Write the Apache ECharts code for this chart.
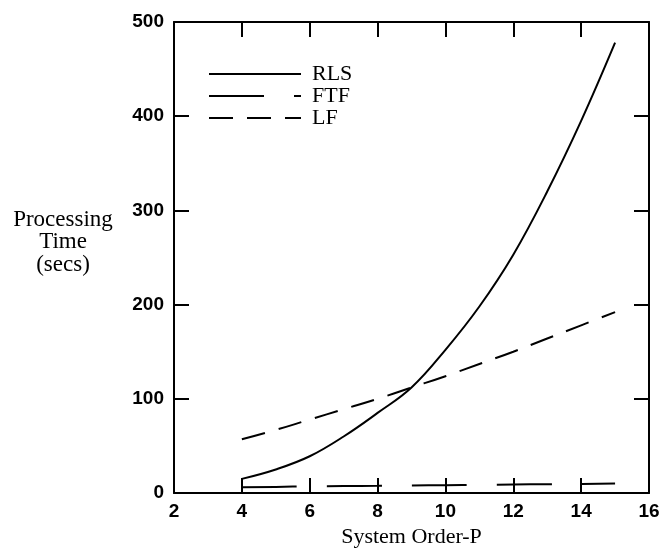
<!DOCTYPE html>
<html><head><meta charset="utf-8">
<script src="https://cdn.jsdelivr.net/npm/echarts@6/dist/echarts.min.js"></script>
<style>html,body{margin:0;padding:0;background:#fff}#c{width:666px;height:556px}</style>
</head><body><div id="c"></div>
<script>
var P = [4,5,6,7,8,9,10,11,12,13,14,15];
var RLS = [15,25,39,60,85,112,152,198,253,320,395,478];
var FTF = [6,6.5,7,7.3,7.6,8,8.3,8.6,9,9.3,9.6,10];
var LF = [57,67,78,89,100,112,124,137,150,164,178,192];
var seriesNames = ['RLS','FTF','LF'];
var yTitle = 'Processing\nTime\n(secs)';
var xTitle = 'System Order-P';

function pairs(ys){ return P.map(function(p,i){ return [p, ys[i]]; }); }

var chart = echarts.init(document.getElementById('c'));
var axisLine = {show:true, onZero:false, lineStyle:{color:'#000', width:2}};
var tick = {show:true, inside:true, length:15, lineStyle:{color:'#000', width:2}};
var tickFont = {color:'#000', fontFamily:'Liberation Sans', fontSize:19, fontWeight:'bold'};
chart.setOption({
  backgroundColor:'#fff',
  animation:false,
  grid:{left:174, right:17, top:22, bottom:63},
  legend:{
    orient:'vertical', left:203, top:58, itemWidth:92, itemHeight:14, itemGap:0,
    data:seriesNames,
    itemStyle:{opacity:0},
    textStyle:{color:'#000', fontFamily:'Liberation Serif', fontSize:22, lineHeight:22, padding:[0,0,0,6]}
  },
  graphic:[{
    type:'text', x:63, y:242,
    style:{text:yTitle, fill:'#000', fontFamily:'Liberation Serif', fontSize:23, lineHeight:22.5, align:'center', verticalAlign:'middle'}
  }],
  xAxis:[{
    type:'value', min:2, max:16, interval:2,
    axisLine:axisLine, axisTick:tick, splitLine:{show:false},
    axisLabel:Object.assign({margin:9}, tickFont),
    name:xTitle, nameLocation:'middle', nameGap:21,
    nameTextStyle:{color:'#000', fontFamily:'Liberation Serif', fontSize:22}
  },{
    type:'value', min:2, max:16, interval:2, position:'top',
    axisLine:axisLine, axisTick:tick, splitLine:{show:false}, axisLabel:{show:false}
  }],
  yAxis:[{
    type:'value', min:0, max:500, interval:100,
    axisLine:axisLine, axisTick:tick, splitLine:{show:false},
    axisLabel:Object.assign({margin:10}, tickFont)
  },{
    type:'value', min:0, max:500, interval:100, position:'right',
    axisLine:axisLine, axisTick:tick, splitLine:{show:false}, axisLabel:{show:false}
  }],
  series:[
    {name:'RLS', type:'line', data:pairs(RLS), smooth:0.4, showSymbol:false, symbol:'none',
     lineStyle:{color:'#000', width:2, type:'solid'}, itemStyle:{color:'#000'}},
    {name:'FTF', type:'line', data:pairs(FTF), smooth:true, showSymbol:false, symbol:'none',
     lineStyle:{color:'#000', width:2, type:[55,30]}, itemStyle:{color:'#000'}},
    {name:'LF', type:'line', data:pairs(LF), smooth:true, showSymbol:false, symbol:'none',
     lineStyle:{color:'#000', width:2, type:[24,14]}, itemStyle:{color:'#000'}}
  ]
});
</script></body></html>
